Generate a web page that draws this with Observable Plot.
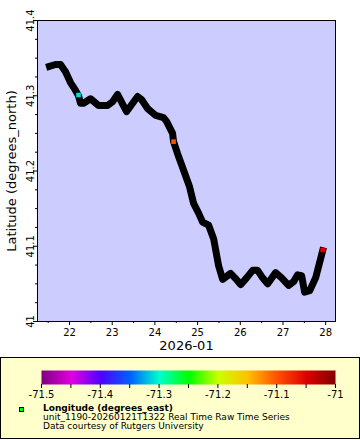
<!DOCTYPE html>
<html><head><meta charset="utf-8">
<script src="https://cdn.jsdelivr.net/npm/d3@7"></script>
<script src="https://cdn.jsdelivr.net/npm/@observablehq/plot@0.6"></script>
<style>
body{margin:0;background:#fff;font-family:"DejaVu Sans",sans-serif;}
#wrap{position:relative;width:360px;height:440px;overflow:hidden;}
#chart{position:absolute;left:0;top:0;}
#legend{position:absolute;left:0;top:357px;width:358px;height:80px;border:1px solid #000;background:#ffffcc;}
#bar{position:absolute;left:0;top:0;}
#ltext{position:absolute;left:42px;top:46px;font-size:9px;line-height:9px;color:#000;white-space:nowrap;}
#ltext .b{font-weight:bold;}
#swatch{position:absolute;left:18px;top:49px;width:3px;height:3px;border:1px solid #000;}
</style></head><body>
<div id="wrap"><div id="chart"></div>
<div id="legend"><div id="bar"></div><div id="swatch"></div><div id="ltext"></div></div></div>
<script>
// ---- data ----
const trackDay = [21.531,21.672,21.789,21.906,22.023,22.141,22.211,22.258,22.328,22.492,22.680,22.891,23.008,23.125,23.336,23.453,23.594,23.687,23.828,24.016,24.203,24.273,24.414,24.437,24.531,24.672,24.812,24.906,25.023,25.117,25.258,25.375,25.492,25.586,25.773,25.890,26.008,26.148,26.289,26.406,26.523,26.640,26.828,26.968,27.132,27.250,27.343,27.437,27.507,27.625,27.765,27.929];
const trackLat = [41.339,41.3415,41.3415,41.332,41.3176,41.307,41.300,41.290,41.290,41.296,41.287,41.287,41.292,41.3017,41.279,41.288,41.299,41.295,41.283,41.274,41.271,41.266,41.250,41.239,41.223,41.201,41.179,41.157,41.144,41.132,41.128,41.110,41.074,41.056,41.064,41.057,41.049,41.058,41.068,41.068,41.058,41.050,41.065,41.058,41.048,41.053,41.062,41.061,41.039,41.041,41.058,41.094];
const markerDay = [22.211,24.437,27.929];
const markerLat = [41.301,41.239,41.095];
const markerLon = [-71.31,-71.10,-71.05];
const colorStops = [-71.5,-71.45,-71.4,-71.35,-71.3,-71.25,-71.2,-71.15,-71.1,-71.05,-71];
const colorStopColors = ["#800080","#e000e0","#5000ff","#0060ff","#00ffcc","#00ff00","#ccff00","#ffc000","#ff5000","#dd0000","#800000"];
const colorTickLabels = ["-71.5","","-71.4","","-71.3","","-71.2","","-71.1","","-71"];
const latTicks = [41,41.1,41.2,41.3,41.4];
const latTickLabels = ["41","41.1","41.2","41.3","41.4"];
const latMinorTicks = [41.025,41.05,41.075,41.125,41.15,41.175,41.225,41.25,41.275,41.325,41.35,41.375];
const dayTicks = [22,23,24,25,26,27,28];
const dayTickLabels = ["22","23","24","25","26","27","28"];
const dayMinorTicks = [21.5,22.5,23.5,24.5,25.5,26.5,27.5];
const dayDomain = [21.25,28.23];
const latDomain = [41,41.4];
const lonDomain = [-71.5,-71];
const monthLabel = "2026-01";
const yLabel = "Latitude (degrees_north)";
const legendTitle = "Longitude (degrees_east)";
const legendLines = ["unit_1190-20260121T1322 Real Time Raw Time Series","Data courtesy of Rutgers University"];
const swatchColor = "#00ff00";

// ---- build ----
const toDate = d => new Date(Date.UTC(2026,0,1) + (d-1)*864e5);
const track = trackDay.map((d,i)=>({t:toDate(d), lat:trackLat[i]}));
const markers = markerDay.map((d,i)=>({t:toDate(d), lat:markerLat[i], lon:markerLon[i]}));
const dayLabelOf = new Map(dayTicks.map((d,i)=>[+toDate(d), dayTickLabels[i]]));
const latLabelOf = new Map(latTicks.map((d,i)=>[d, latTickLabels[i]]));
const colorLabelOf = new Map(colorStops.map((d,i)=>[d, colorTickLabels[i]]));
const color = {type:"linear", domain: colorStops, range: colorStopColors};
const font = {fontFamily:"DejaVu Sans", fontSize:"10px", background:"transparent", color:"black"};

const chart = Plot.plot({
  width:360, height:357, marginLeft:37, marginRight:25, marginTop:20, marginBottom:36,
  style: font,
  x:{type:"utc", domain: dayDomain.map(toDate)},
  y:{domain: latDomain},
  color,
  marks:[
    Plot.frame({fill:"#ccccff"}),
    Plot.line(track, {x:"t", y:"lat", stroke:"black", strokeWidth:7, strokeLinejoin:"round", strokeLinecap:"square"}),
    Plot.dot(markers, {x:"t", y:"lat", fill:"lon", symbol:"square", r:2.6}),
    Plot.axisX(dayTicks.map(toDate), {tickSize:4, tickPadding:3, tickFormat:d=>dayLabelOf.get(+d), label:null, fontSize:10}),
    Plot.axisX(dayMinorTicks.map(toDate), {tickSize:2, text:null, label:null}),
    Plot.axisY(latTicks, {tickSize:4, text:null, label:null}),
    Plot.axisY(latMinorTicks, {tickSize:2, text:null, label:null}),
    Plot.text(latTicks, {y:d=>d, text:d=>latLabelOf.get(d), frameAnchor:"left", dx:-4, rotate:-90, textAnchor:"middle", lineAnchor:"bottom", fontSize:10}),
    Plot.text([yLabel], {text:d=>d, frameAnchor:"left", dx:-22, rotate:-90, textAnchor:"middle", lineAnchor:"bottom", fontSize:13}),
    Plot.text([monthLabel], {text:d=>d, frameAnchor:"bottom", dy:24, lineAnchor:"middle", fontSize:13}),
    Plot.frame({stroke:"black"})
  ]
});
document.getElementById("chart").append(chart);

const bar = Plot.plot({
  width:358, height:46, marginLeft:40, marginRight:24, marginTop:12, marginBottom:20,
  style: font,
  x:{domain: lonDomain},
  y:{domain:[0,1], axis:null},
  color,
  marks:[
    Plot.raster({x1:lonDomain[0], x2:lonDomain[1], y1:0, y2:1, width:294, height:1, fill:(x,y)=>x, imageRendering:"pixelated"}),
    Plot.axisX(colorStops, {tickSize:4, tickPadding:2, tickFormat:d=>colorLabelOf.get(d), label:null, fontSize:10})
  ]
});
document.getElementById("bar").append(bar);
document.getElementById("swatch").style.background = swatchColor;
const lt = document.getElementById("ltext");
const b = document.createElement("div"); b.className="b"; b.textContent = legendTitle; lt.append(b);
for (const s of legendLines){ const d=document.createElement("div"); d.textContent=s; lt.append(d); }
</script>
</body></html>
